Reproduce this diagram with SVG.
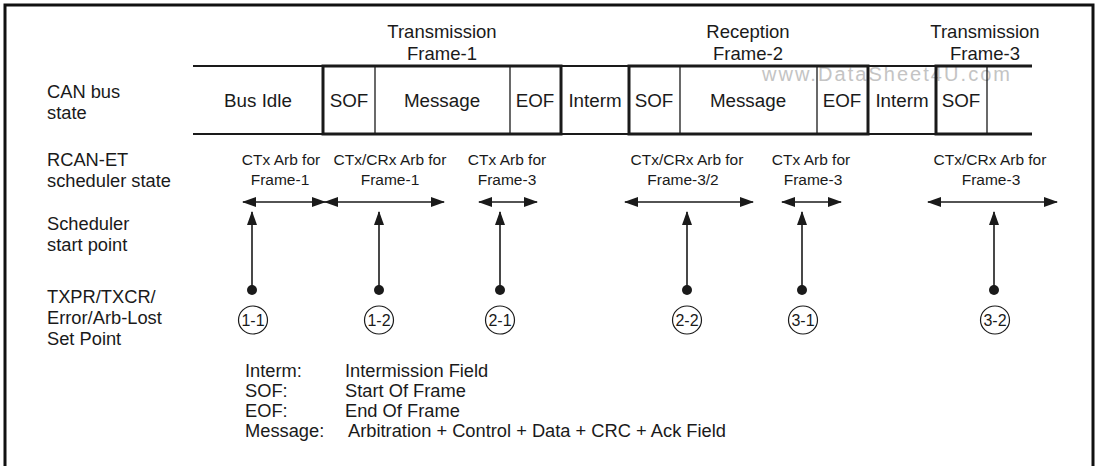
<svg xmlns="http://www.w3.org/2000/svg" width="1100" height="466" viewBox="0 0 1100 466">
<defs>
<style>
text{font-family:"Liberation Sans",Arial,Helvetica,sans-serif;fill:#1a1a1a}
.lbl{font-size:18.3px}
.hdr{font-size:18.5px;text-anchor:middle}
.bus{font-size:18.8px;text-anchor:middle}
.sch{font-size:15.5px;text-anchor:middle}
.leg{font-size:18.3px}
.cir{font-size:16px;text-anchor:middle}
.thin{stroke:#1a1a1a;stroke-width:1.3;fill:none}
.hline{stroke:#1a1a1a;stroke-width:2;fill:none}
.thick{stroke:#1a1a1a;stroke-width:3;fill:none}
.arr{stroke:#1a1a1a;stroke-width:1.6;fill:none;marker-start:url(#ah);marker-end:url(#ah)}
.up{stroke:#1a1a1a;stroke-width:1.6;fill:none;marker-end:url(#ah)}
.dot{fill:#1a1a1a}
.ring{fill:#fff;stroke:#1a1a1a;stroke-width:1.2}
</style>
<marker id="ah" viewBox="0 0 14 10" refX="13" refY="5" markerWidth="14" markerHeight="10" markerUnits="userSpaceOnUse" orient="auto-start-reverse">
<path d="M0,0 L14,5 L0,10 Z" fill="#1a1a1a"/>
</marker>
</defs>
<rect width="1100" height="466" fill="#fff"/>
<rect x="5" y="5" width="1088" height="470" fill="none" stroke="#111" stroke-width="3"/>

<g id="left-labels">
<text class="lbl" x="47" y="98">CAN bus</text>
<text class="lbl" x="47" y="119">state</text>
<text class="lbl" x="47" y="166">RCAN-ET</text>
<text class="lbl" x="47" y="187">scheduler state</text>
<text class="lbl" x="47" y="230">Scheduler</text>
<text class="lbl" x="47" y="251">start point</text>
<text class="lbl" x="47" y="303">TXPR/TXCR/</text>
<text class="lbl" x="47" y="324">Error/Arb-Lost</text>
<text class="lbl" x="47" y="345">Set Point</text>
</g>

<g id="headers">
<text class="hdr" x="442" y="38">Transmission</text>
<text class="hdr" x="442" y="60">Frame-1</text>
<text class="hdr" x="748" y="38">Reception</text>
<text class="hdr" x="748" y="60">Frame-2</text>
<text class="hdr" x="985" y="38">Transmission</text>
<text class="hdr" x="985" y="60">Frame-3</text>
</g>

<text x="762" y="81" font-size="20" textLength="248" style="fill:#c4c4c4">www.DataSheet4U.com</text>

<g id="bus-row">
<line class="hline" x1="193" y1="66" x2="1032" y2="66"/>
<line class="hline" x1="193" y1="134" x2="1032" y2="134"/>
<line class="thin" x1="375" y1="66" x2="375" y2="134"/>
<line class="thin" x1="510" y1="66" x2="510" y2="134"/>
<line class="thin" x1="680" y1="66" x2="680" y2="134"/>
<line class="thin" x1="817" y1="66" x2="817" y2="134"/>
<line class="thin" x1="987" y1="66" x2="987" y2="134"/>
<rect class="thick" x="323" y="66" width="238" height="68"/>
<rect class="thick" x="629" y="66" width="239" height="68"/>
<polyline class="thick" points="1032,66 936,66 936,134 1032,134"/>
<text class="bus" x="258" y="107">Bus Idle</text>
<text class="bus" x="349" y="107">SOF</text>
<text class="bus" x="442" y="107">Message</text>
<text class="bus" x="535" y="107">EOF</text>
<text class="bus" x="595" y="107">Interm</text>
<text class="bus" x="654" y="107">SOF</text>
<text class="bus" x="748" y="107">Message</text>
<text class="bus" x="842" y="107">EOF</text>
<text class="bus" x="902" y="107">Interm</text>
<text class="bus" x="961" y="107">SOF</text>
</g>

<g id="sched-labels">
<text class="sch" x="281" y="165">CTx Arb for</text>
<text class="sch" x="280" y="185">Frame-1</text>
<text class="sch" x="390" y="165">CTx/CRx Arb for</text>
<text class="sch" x="390" y="185">Frame-1</text>
<text class="sch" x="507" y="165">CTx Arb for</text>
<text class="sch" x="507" y="185">Frame-3</text>
<text class="sch" x="687" y="165">CTx/CRx Arb for</text>
<text class="sch" x="683" y="185">Frame-3/2</text>
<text class="sch" x="811" y="165">CTx Arb for</text>
<text class="sch" x="813" y="185">Frame-3</text>
<text class="sch" x="990" y="165">CTx/CRx Arb for</text>
<text class="sch" x="991" y="185">Frame-3</text>
</g>

<g id="connectors">
<line class="arr" x1="243" y1="202" x2="325" y2="202"/>
<line class="arr" x1="325" y1="202" x2="444" y2="202"/>
<line class="arr" x1="479" y1="202" x2="537" y2="202"/>
<line class="arr" x1="625" y1="202" x2="753" y2="202"/>
<line class="arr" x1="782" y1="202" x2="841" y2="202"/>
<line class="arr" x1="928" y1="202" x2="1057" y2="202"/>
<line class="up" x1="252" y1="290" x2="252" y2="212"/>
<line class="up" x1="379" y1="290" x2="379" y2="212"/>
<line class="up" x1="500" y1="290" x2="500" y2="212"/>
<line class="up" x1="687" y1="290" x2="687" y2="212"/>
<line class="up" x1="802" y1="290" x2="802" y2="212"/>
<line class="up" x1="994" y1="290" x2="994" y2="212"/>
</g>

<g id="p11"><circle class="dot" cx="252" cy="290" r="5"/><ellipse class="ring" cx="253" cy="320" rx="14.5" ry="14"/><text class="cir" x="253" y="326">1-1</text></g>
<g id="p12"><circle class="dot" cx="379" cy="290" r="5"/><ellipse class="ring" cx="379" cy="320" rx="14.5" ry="14"/><text class="cir" x="379" y="326">1-2</text></g>
<g id="p21"><circle class="dot" cx="500" cy="290" r="5"/><ellipse class="ring" cx="500" cy="320" rx="14.5" ry="14"/><text class="cir" x="500" y="326">2-1</text></g>
<g id="p22"><circle class="dot" cx="687" cy="290" r="5"/><ellipse class="ring" cx="687" cy="320" rx="14.5" ry="14"/><text class="cir" x="687" y="326">2-2</text></g>
<g id="p31"><circle class="dot" cx="802" cy="290" r="5"/><ellipse class="ring" cx="803" cy="320" rx="14.5" ry="14"/><text class="cir" x="803" y="326">3-1</text></g>
<g id="p32"><circle class="dot" cx="994" cy="290" r="5"/><ellipse class="ring" cx="995" cy="320" rx="14.5" ry="14"/><text class="cir" x="995" y="326">3-2</text></g>

<g id="legend">
<text class="leg" x="245" y="377">Interm:</text>
<text class="leg" x="345" y="377">Intermission Field</text>
<text class="leg" x="245" y="397">SOF:</text>
<text class="leg" x="345" y="397">Start Of Frame</text>
<text class="leg" x="245" y="417">EOF:</text>
<text class="leg" x="345" y="417">End Of Frame</text>
<text class="leg" x="245" y="437">Message:</text>
<text class="leg" x="348" y="437">Arbitration + Control + Data + CRC + Ack Field</text>
</g>
</svg>
